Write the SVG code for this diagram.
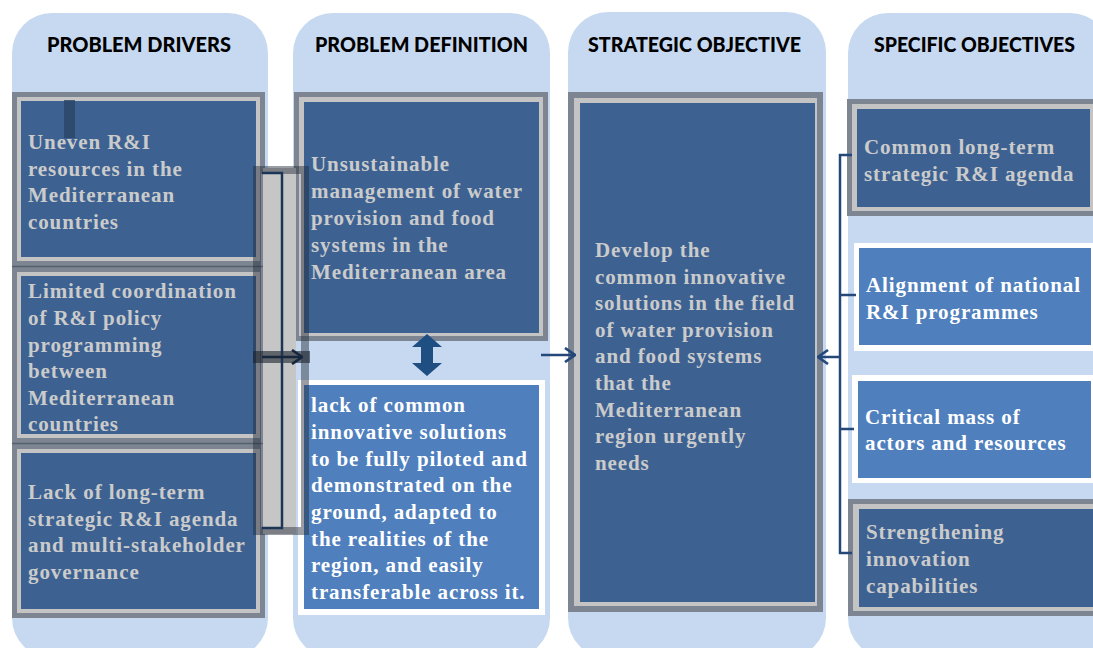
<svg xmlns="http://www.w3.org/2000/svg" width="1093" height="648" viewBox="0 0 1093 648">
  <defs>
    <style>
      .col { fill: #c6d9f1; }
      .fo { fill: #7d8592; }
      .fl { fill: #c4c4c4; }
      .fb { fill: #3d6292; }
      .wo { fill: #ffffff; }
      .wb { fill: #4f80bd; }
      .hd { font-family: Lato, "Open Sans", "Liberation Sans", sans-serif; font-weight: 900; font-size: 20px; fill: #000; }
      .tg { font-family: "Liberation Serif", "Times New Roman", serif; font-weight: bold; font-size: 21px; letter-spacing: 0.9px; fill: #cbcbcb; }
      .tw { font-family: "Liberation Serif", "Times New Roman", serif; font-weight: bold; font-size: 21px; letter-spacing: 0.9px; fill: #ffffff; }
      .link { fill: none; stroke: #24487a; stroke-width: 2.5; }
    </style>
    <marker id="chevDark" viewBox="0 0 12 16" refX="11" refY="8" markerWidth="12" markerHeight="16" markerUnits="userSpaceOnUse" orient="auto">
      <path d="M1,1 L11,8 L1,15" fill="none" stroke="#16263c" stroke-width="2.6"/>
    </marker>
    <marker id="chevBlue" viewBox="0 0 12 16" refX="11" refY="8" markerWidth="12" markerHeight="16" markerUnits="userSpaceOnUse" orient="auto">
      <path d="M1,1 L11,8 L1,15" fill="none" stroke="#24487a" stroke-width="2.6"/>
    </marker>
  </defs>

  <rect width="1093" height="648" fill="#ffffff"/>

  <!-- column panels -->
  <g id="columns">
    <rect class="col" x="12" y="13" width="256" height="645" rx="40"/>
    <rect class="col" x="293" y="13" width="257" height="645" rx="40"/>
    <rect class="col" x="568" y="12" width="258" height="646" rx="40"/>
    <rect class="col" x="848" y="13" width="262" height="645" rx="40"/>
  </g>

  <!-- column headings -->
  <g id="headings">
    <text class="hd" x="47" y="52" textLength="184" lengthAdjust="spacingAndGlyphs">PROBLEM DRIVERS</text>
    <text class="hd" x="315" y="52" textLength="213" lengthAdjust="spacingAndGlyphs">PROBLEM DEFINITION</text>
    <text class="hd" x="588" y="52" textLength="213" lengthAdjust="spacingAndGlyphs">STRATEGIC OBJECTIVE</text>
    <text class="hd" x="874" y="52" textLength="201" lengthAdjust="spacingAndGlyphs">SPECIFIC OBJECTIVES</text>
  </g>

  <!-- problem drivers -->
  <g id="driver-1">
    <rect class="fo" x="12" y="92" width="253" height="174"/>
    <rect class="fl" x="17" y="97" width="243" height="164"/>
    <rect class="fb" x="21" y="101" width="235" height="156"/>
    <rect x="64" y="100" width="11" height="38" fill="#2c4566" opacity="0.8"/>
    <text class="tg"><tspan x="28" y="149">Uneven R&amp;I</tspan><tspan x="28" y="176">resources in the</tspan><tspan x="28" y="202">Mediterranean</tspan><tspan x="28" y="229">countries</tspan></text>
  </g>
  <g id="driver-2">
    <rect class="fo" x="12" y="267" width="253" height="176"/>
    <rect class="fl" x="17" y="272" width="243" height="166"/>
    <rect class="fb" x="21" y="276" width="235" height="158"/>
    <text class="tg"><tspan x="28" y="298">Limited coordination</tspan><tspan x="28" y="325">of R&amp;I policy</tspan><tspan x="28" y="352">programming</tspan><tspan x="28" y="378">between</tspan><tspan x="28" y="405">Mediterranean</tspan><tspan x="28" y="431">countries</tspan></text>
  </g>
  <g id="driver-3">
    <rect class="fo" x="12" y="444" width="253" height="174"/>
    <rect class="fl" x="17" y="449" width="243" height="164"/>
    <rect class="fb" x="21" y="453" width="235" height="156"/>
    <text class="tg"><tspan x="28" y="499">Lack of long-term</tspan><tspan x="28" y="526">strategic R&amp;I agenda</tspan><tspan x="28" y="552">and multi-stakeholder</tspan><tspan x="28" y="579">governance</tspan></text>
  </g>
  <g id="driver-dividers" stroke="#55606e" stroke-width="1.5">
    <line x1="12" y1="266.5" x2="265" y2="266.5"/>
    <line x1="12" y1="443.5" x2="265" y2="443.5"/>
  </g>

  <!-- problem definition -->
  <g id="problem">
    <rect class="fo" x="294" y="92" width="254" height="249"/>
    <rect class="fl" x="299" y="97" width="244" height="239"/>
    <rect class="fb" x="304" y="102" width="235" height="231"/>
    <text class="tg"><tspan x="311" y="171">Unsustainable</tspan><tspan x="311" y="198">management of water</tspan><tspan x="311" y="225">provision and food</tspan><tspan x="311" y="252">systems in the</tspan><tspan x="311" y="279">Mediterranean area</tspan></text>
  </g>
  <g id="problem-cause">
    <rect class="wo" x="298" y="380" width="247" height="235"/>
    <rect class="wb" x="304" y="385" width="235" height="224"/>
    <text class="tw"><tspan x="311" y="412">lack of common</tspan><tspan x="311" y="439">innovative solutions</tspan><tspan x="311" y="466">to be fully piloted and</tspan><tspan x="311" y="492">demonstrated on the</tspan><tspan x="311" y="519">ground, adapted to</tspan><tspan x="311" y="546">the realities of the</tspan><tspan x="311" y="572">region, and easily</tspan><tspan x="311" y="599">transferable across it.</tspan></text>
  </g>

  <!-- strategic objective -->
  <g id="strategic">
    <rect class="fo" x="568" y="92" width="255" height="520"/>
    <rect class="fl" x="574" y="98" width="243" height="508"/>
    <rect class="fb" x="580" y="103" width="235" height="499"/>
    <text class="tg"><tspan x="595" y="257">Develop the</tspan><tspan x="595" y="284">common innovative</tspan><tspan x="595" y="310">solutions in the field</tspan><tspan x="595" y="337">of water provision</tspan><tspan x="595" y="363">and food systems</tspan><tspan x="595" y="390">that the</tspan><tspan x="595" y="417">Mediterranean</tspan><tspan x="595" y="443">region urgently</tspan><tspan x="595" y="470">needs</tspan></text>
  </g>

  <!-- specific objectives -->
  <g id="specific-1">
    <rect class="fo" x="847" y="99" width="253" height="117"/>
    <rect class="fl" x="852" y="104" width="243" height="107"/>
    <rect class="fb" x="857" y="109" width="233" height="98"/>
    <text class="tg"><tspan x="864" y="154">Common long-term</tspan><tspan x="864" y="181">strategic R&amp;I agenda</tspan></text>
  </g>
  <g id="specific-2">
    <rect class="wo" x="854" y="243" width="243" height="108"/>
    <rect class="wb" x="859" y="248" width="232" height="97"/>
    <text class="tw"><tspan x="866" y="292">Alignment of national</tspan><tspan x="866" y="319">R&amp;I programmes</tspan></text>
  </g>
  <g id="specific-3">
    <rect class="wo" x="852" y="375" width="245" height="108"/>
    <rect class="wb" x="858" y="381" width="233" height="97"/>
    <text class="tw"><tspan x="865" y="424">Critical mass of</tspan><tspan x="865" y="450">actors and resources</tspan></text>
  </g>
  <g id="specific-4">
    <rect class="fo" x="848" y="499" width="252" height="117"/>
    <rect class="fl" x="853" y="504" width="242" height="107"/>
    <rect class="fb" x="859" y="509" width="236" height="98"/>
    <text class="tg"><tspan x="866" y="539">Strengthening</tspan><tspan x="866" y="566">innovation</tspan><tspan x="866" y="593">capabilities</tspan></text>
  </g>

  <!-- connectors -->
  <g id="connectors">
    <!-- drivers bracket -->
    <rect x="263" y="168" width="33" height="366" fill="#c6c6c6"/>
    <rect x="257" y="170" width="48" height="361" fill="none" stroke="#1f2835" stroke-opacity="0.45" stroke-width="8"/>
    <rect x="253" y="351" width="57" height="12" fill="#1a222d" opacity="0.6"/>
    <path d="M262,173 H282 V528 H262" fill="none" stroke="#1c3456" stroke-width="2.5"/>
    <path d="M262,357 H302" fill="none" stroke="#16263c" stroke-width="2.5" marker-end="url(#chevDark)"/>

    <!-- two-way link between problem and its cause -->
    <polygon points="427,334 442,347 433,347 433,363 442,363 427,376 412,363 421,363 421,347 412,347" fill="#1f4e82"/>

    <!-- problem to strategic objective -->
    <path class="link" d="M541,355 H575" marker-end="url(#chevBlue)"/>

    <!-- specific objectives bracket -->
    <path class="link" d="M852,155 H840 V553 H852 M840,295 H856 M840,429 H854"/>
    <path class="link" d="M840,357 H818" marker-end="url(#chevBlue)"/>
  </g>
</svg>
